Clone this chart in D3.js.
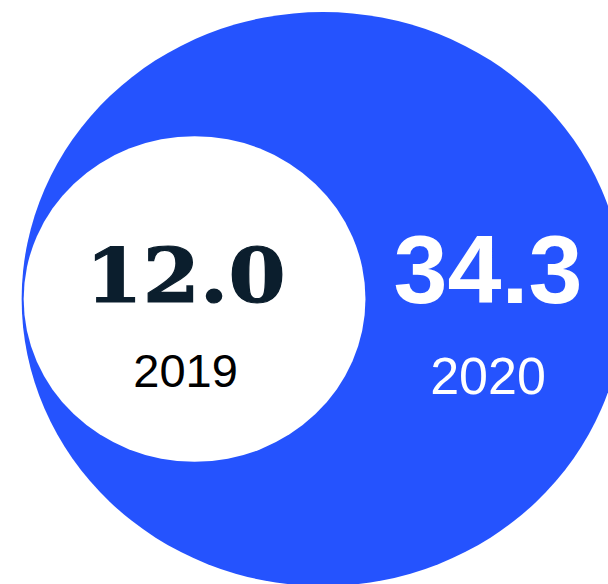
<!DOCTYPE html>
<html>
<head>
<meta charset="utf-8">
<script src="https://cdn.jsdelivr.net/npm/d3@7"></script>
<style>
  html, body { margin: 0; padding: 0; background: #ffffff; overflow: hidden; }
  svg { display: block; }
</style>
</head>
<body>
<div id="chart"></div>
<script>
// Nested proportional circles: 2019 value sits inside the 2020 value
const years = ["2019", "2020"];
const values = [12.0, 34.3];
const valueLabels = ["12.0", "34.3"];

const width = 608, height = 584;
const blue = "#2553fe";
const navy = "#0b1e2d";
const stretch = 1.05; // circles are drawn slightly wider than tall

const svg = d3.select("#chart").append("svg")
  .attr("width", width)
  .attr("height", height);

const r = d3.scalePow().exponent(0.54)
  .domain([0, d3.max(values)])
  .range([0, 287]);

const cy = 299;
const bigR = r(values[1]);
const smallR = r(values[0]);
const bigCx = 323;
const bigLeft = bigCx - bigR * stretch;
const smallCx = bigLeft + 2 + smallR * stretch;

// outer (2020) disc
svg.append("ellipse")
  .attr("cx", bigCx).attr("cy", cy)
  .attr("rx", bigR * stretch).attr("ry", bigR)
  .attr("fill", blue);

// inner (2019) disc
svg.append("ellipse")
  .attr("cx", smallCx).attr("cy", cy)
  .attr("rx", smallR * stretch).attr("ry", smallR)
  .attr("fill", "#ffffff");

// 2019 labels
const innerX = smallCx - 9;
svg.append("text")
  .attr("x", innerX).attr("y", 302)
  .attr("text-anchor", "middle")
  .attr("font-family", "'DejaVu Serif', serif")
  .attr("font-weight", "bold")
  .attr("font-size", 74)
  .attr("textLength", 200)
  .attr("lengthAdjust", "spacingAndGlyphs")
  .attr("fill", navy)
  .attr("stroke", navy)
  .attr("stroke-width", 1.2)
  .text(valueLabels[0]);

svg.append("text")
  .attr("x", innerX).attr("y", 387)
  .attr("text-anchor", "middle")
  .attr("font-family", "'Liberation Sans', Arial, sans-serif")
  .attr("font-size", 47)
  .attr("fill", "#000000")
  .text(years[0]);

// 2020 labels, centred in the crescent to the right of the inner disc
const outerX = 488;
svg.append("text")
  .attr("x", outerX).attr("y", 303)
  .attr("text-anchor", "middle")
  .attr("font-family", "'Liberation Sans', Arial, sans-serif")
  .attr("font-weight", "bold")
  .attr("font-size", 97)
  .attr("fill", "#ffffff")
  .text(valueLabels[1]);

svg.append("text")
  .attr("x", outerX).attr("y", 394)
  .attr("text-anchor", "middle")
  .attr("font-family", "'Liberation Sans', Arial, sans-serif")
  .attr("font-size", 52)
  .attr("fill", "#ffffff")
  .text(years[1]);
</script>
</body>
</html>
